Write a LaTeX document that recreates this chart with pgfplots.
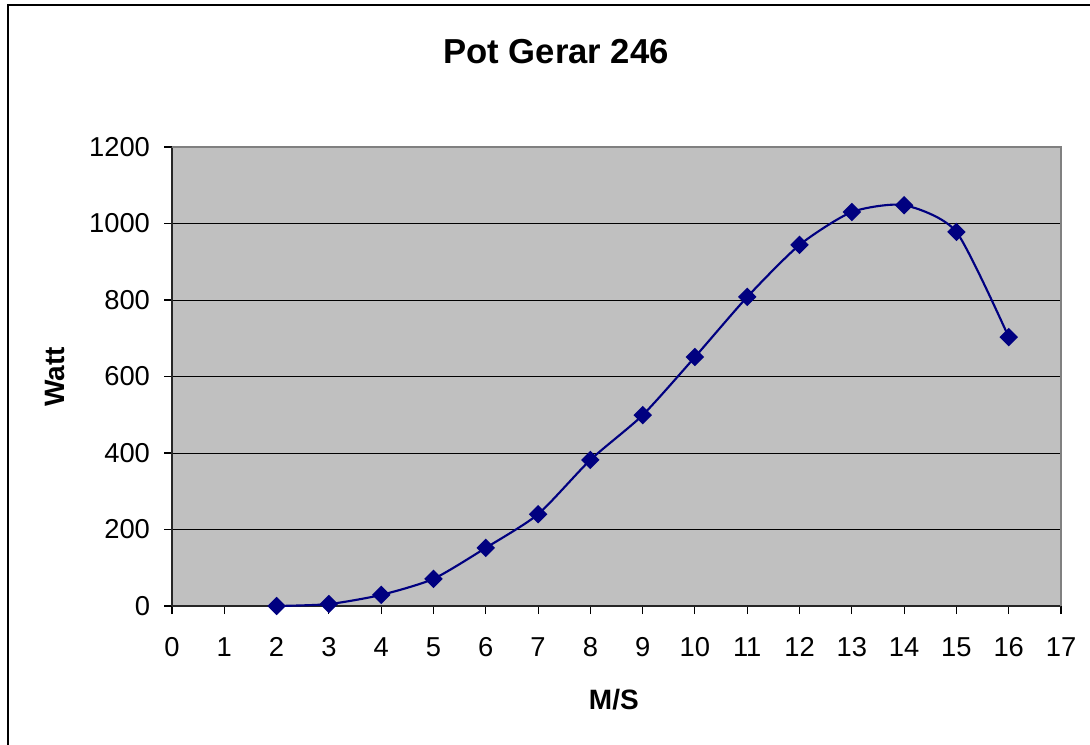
\documentclass[border=0pt]{standalone}
\usepackage{fontspec}
\setmainfont{Liberation Sans}
\usepackage{pgfplots}
\pgfplotsset{compat=1.18}
\definecolor{plotgray}{HTML}{C0C0C0}
\definecolor{bordergray}{HTML}{808080}
\definecolor{navyblue}{HTML}{000080}
\begin{document}
\begin{tikzpicture}
\path[use as bounding box] (0pt,0pt) rectangle (817.5pt,558pt);
\begin{scope}
\clip (0pt,0pt) rectangle (817.5pt,558pt);
\draw[line width=1.1pt] (6pt,554.25pt) rectangle (900pt,-50pt);
\end{scope}
\begin{axis}[
  at={(129pt,103.5pt)}, anchor=south west,
  scale only axis, width=666.75pt, height=344.25pt,
  xmin=0, xmax=17, ymin=0, ymax=1200,
  xtick={0,1,...,17}, ytick={0,200,...,1200},
  axis lines=left, axis line style={-, line width=0.8pt, black!85},
  axis background/.style={fill=plotgray},
  ymajorgrids, grid style={black, line width=0.75pt},
  tick align=outside, major tick length=6pt,
  tick style={black, line width=0.8pt},
  /pgf/number format/assume math mode=true,
  /pgf/number format/1000 sep={},
  ticklabel style={font=\fontsize{20.5}{24}\selectfont},
  yticklabel style={anchor=east, xshift=-7pt},
  xticklabel style={yshift=-14pt},
  title={Pot Gerar 246},
  title style={font=\fontsize{26}{30}\selectfont\bfseries, at={(axis description cs:0.432,1.19)}, anchor=center},
  xlabel={M/S},
  xlabel style={font=\fontsize{21}{25}\selectfont\bfseries, at={(axis description cs:0.497,-0.205)}, anchor=center},
  ylabel={Watt},
  ylabel style={font=\fontsize{21}{25}\selectfont\bfseries, at={(axis description cs:-0.1316,0.499)}, anchor=center, rotate=0},
  clip=false,
]
\addplot[navyblue, line width=1.6pt, smooth, tension=0.4, mark=square*, mark size=4.1pt, mark options={rotate=45, solid, fill=navyblue}]
coordinates {
(2,0) (3,5) (4,29) (5,71) (6,152) (7,240) (8,382) (9,499) (10,651) (11,808) (12,944) (13,1030) (14,1048) (15,978) (16,703)
};
\draw[bordergray, line width=1.5pt] (rel axis cs:0,1) -- (rel axis cs:1,1) -- (rel axis cs:1,0);
\end{axis}
\end{tikzpicture}
\end{document}
